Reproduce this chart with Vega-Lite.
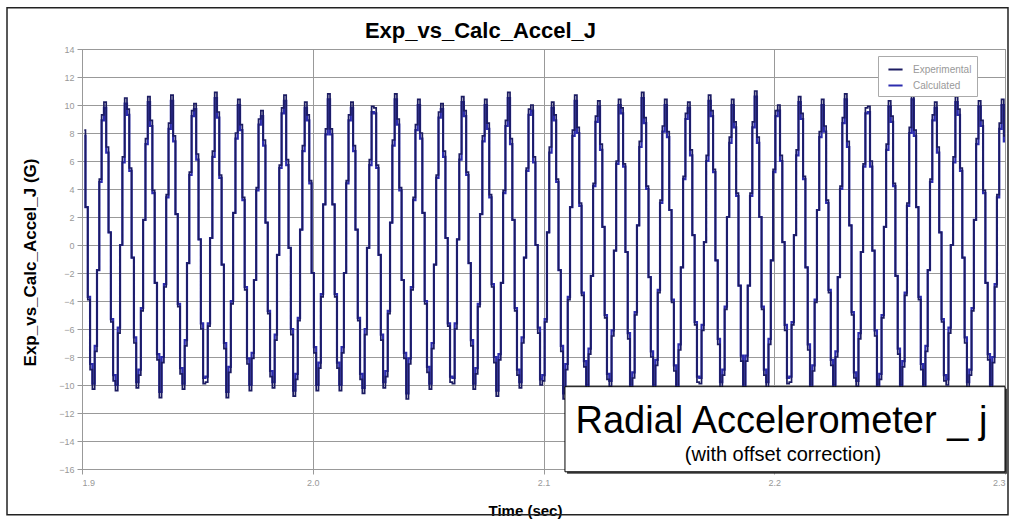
{
"$schema": "https://vega.github.io/schema/vega-lite/v6.json",
"width": 923, "height": 420,
"autosize": "none",
"padding": {"left": 82, "top": 49, "right": 4, "bottom": 50},
"background": "white",
"title": {"text": "Exp_vs_Calc_Accel_J", "font": "Liberation Sans", "fontSize": 22, "fontWeight": "bold", "color": "#000", "anchor": "middle", "frame": "group", "dx": -63, "offset": -36},
"datasets": {"wave": [
{"t":1.901,"e":8.2,"c":7.8},{"t":1.902,"e":2.7,"c":2.7},{"t":1.903,"e":-3.9,"c":-3.7},{"t":1.904,"e":-8.9,"c":-8.5},{"t":1.905,"e":-10.3,"c":-9.9},{"t":1.906,"e":-7.6,"c":-7.2},{"t":1.907,"e":-1.8,"c":-1.8},{"t":1.908,"e":4.7,"c":4.5},{"t":1.909,"e":9.3,"c":8.9},{"t":1.910,"e":10.2,"c":9.8},
{"t":1.911,"e":7.0,"c":6.6},{"t":1.912,"e":0.9,"c":0.9},{"t":1.913,"e":-5.5,"c":-5.3},{"t":1.914,"e":-9.7,"c":-9.3},{"t":1.915,"e":-10.4,"c":-10.0},{"t":1.916,"e":-6.3,"c":-5.9},{"t":1.917,"e":0.0,"c":0.0},{"t":1.918,"e":6.3,"c":5.9},{"t":1.919,"e":10.5,"c":10.1},{"t":1.920,"e":9.7,"c":9.3},
{"t":1.921,"e":5.5,"c":5.3},{"t":1.922,"e":-0.9,"c":-0.9},{"t":1.923,"e":-7.0,"c":-6.6},{"t":1.924,"e":-10.2,"c":-9.8},{"t":1.925,"e":-9.3,"c":-8.9},{"t":1.926,"e":-4.7,"c":-4.5},{"t":1.927,"e":1.8,"c":1.8},{"t":1.928,"e":7.6,"c":7.2},{"t":1.929,"e":10.6,"c":10.2},{"t":1.930,"e":8.9,"c":8.5},
{"t":1.931,"e":3.9,"c":3.7},{"t":1.932,"e":-2.7,"c":-2.7},{"t":1.933,"e":-8.2,"c":-7.8},{"t":1.934,"e":-10.9,"c":-10.5},{"t":1.935,"e":-8.4,"c":-8.0},{"t":1.936,"e":-3.0,"c":-2.8},{"t":1.937,"e":3.6,"c":3.4},{"t":1.938,"e":8.7,"c":8.3},{"t":1.939,"e":10.7,"c":10.3},{"t":1.940,"e":7.8,"c":7.4},
{"t":1.941,"e":2.2,"c":2.2},{"t":1.942,"e":-4.4,"c":-4.2},{"t":1.943,"e":-9.2,"c":-8.8},{"t":1.944,"e":-10.3,"c":-9.9},{"t":1.945,"e":-7.2,"c":-6.8},{"t":1.946,"e":-1.3,"c":-1.3},{"t":1.947,"e":5.2,"c":5.0},{"t":1.948,"e":9.6,"c":9.2},{"t":1.949,"e":10.1,"c":9.7},{"t":1.950,"e":6.5,"c":6.1},
{"t":1.951,"e":0.4,"c":0.4},{"t":1.952,"e":-6.0,"c":-5.6},{"t":1.953,"e":-9.9,"c":-9.5},{"t":1.954,"e":-9.8,"c":-9.4},{"t":1.955,"e":-5.8,"c":-5.6},{"t":1.956,"e":0.5,"c":0.5},{"t":1.957,"e":6.7,"c":6.3},{"t":1.958,"e":10.9,"c":10.5},{"t":1.959,"e":9.5,"c":9.1},{"t":1.960,"e":5.0,"c":4.8},
{"t":1.961,"e":-1.4,"c":-1.4},{"t":1.962,"e":-7.4,"c":-7.0},{"t":1.963,"e":-10.9,"c":-10.5},{"t":1.964,"e":-9.1,"c":-8.7},{"t":1.965,"e":-4.2,"c":-4.0},{"t":1.966,"e":2.3,"c":2.3},{"t":1.967,"e":8.0,"c":7.6},{"t":1.968,"e":10.4,"c":10.0},{"t":1.969,"e":8.6,"c":8.2},{"t":1.970,"e":3.4,"c":3.2},
{"t":1.971,"e":-3.2,"c":-3.0},{"t":1.972,"e":-8.5,"c":-8.1},{"t":1.973,"e":-10.4,"c":-10.0},{"t":1.974,"e":-8.1,"c":-7.7},{"t":1.975,"e":-2.5,"c":-2.5},{"t":1.976,"e":4.1,"c":3.9},{"t":1.977,"e":9.0,"c":8.6},{"t":1.978,"e":9.6,"c":9.2},{"t":1.979,"e":7.5,"c":7.1},{"t":1.980,"e":1.6,"c":1.6},
{"t":1.981,"e":-4.9,"c":-4.7},{"t":1.982,"e":-9.4,"c":-9.0},{"t":1.983,"e":-10.2,"c":-9.8},{"t":1.984,"e":-6.8,"c":-6.4},{"t":1.985,"e":-0.7,"c":-0.7},{"t":1.986,"e":5.7,"c":5.5},{"t":1.987,"e":9.8,"c":9.4},{"t":1.988,"e":10.7,"c":10.3},{"t":1.989,"e":6.1,"c":5.7},{"t":1.990,"e":-0.2,"c":-0.2},
{"t":1.991,"e":-6.4,"c":-6.0},{"t":1.992,"e":-10.8,"c":-10.4},{"t":1.993,"e":-9.6,"c":-9.2},{"t":1.994,"e":-5.4,"c":-5.2},{"t":1.995,"e":1.1,"c":1.1},{"t":1.996,"e":7.1,"c":6.7},{"t":1.997,"e":10.2,"c":9.8},{"t":1.998,"e":9.3,"c":8.9},{"t":1.999,"e":4.6,"c":4.4},{"t":2.000,"e":-2.0,"c":-2.0},
{"t":2.001,"e":-7.7,"c":-7.3},{"t":2.002,"e":-10.4,"c":-10.0},{"t":2.003,"e":-8.8,"c":-8.4},{"t":2.004,"e":-3.7,"c":-3.5},{"t":2.005,"e":2.9,"c":2.9},{"t":2.006,"e":8.3,"c":7.9},{"t":2.007,"e":10.8,"c":10.4},{"t":2.008,"e":8.3,"c":7.9},{"t":2.009,"e":2.9,"c":2.9},{"t":2.010,"e":-3.7,"c":-3.5},
{"t":2.011,"e":-8.8,"c":-8.4},{"t":2.012,"e":-10.4,"c":-10.0},{"t":2.013,"e":-7.7,"c":-7.3},{"t":2.014,"e":-2.0,"c":-2.0},{"t":2.015,"e":4.6,"c":4.4},{"t":2.016,"e":9.3,"c":8.9},{"t":2.017,"e":10.2,"c":9.8},{"t":2.018,"e":7.1,"c":6.7},{"t":2.019,"e":1.1,"c":1.1},{"t":2.020,"e":-5.4,"c":-5.2},
{"t":2.021,"e":-9.6,"c":-9.2},{"t":2.022,"e":-10.6,"c":-10.2},{"t":2.023,"e":-6.4,"c":-6.0},{"t":2.024,"e":-0.2,"c":-0.2},{"t":2.025,"e":6.1,"c":5.7},{"t":2.026,"e":9.9,"c":9.5},{"t":2.027,"e":9.8,"c":9.4},{"t":2.028,"e":5.7,"c":5.5},{"t":2.029,"e":-0.7,"c":-0.7},{"t":2.030,"e":-6.8,"c":-6.4},
{"t":2.031,"e":-10.2,"c":-9.8},{"t":2.032,"e":-9.4,"c":-9.0},{"t":2.033,"e":-4.9,"c":-4.7},{"t":2.034,"e":1.6,"c":1.6},{"t":2.035,"e":7.5,"c":7.1},{"t":2.036,"e":10.8,"c":10.4},{"t":2.037,"e":9.0,"c":8.6},{"t":2.038,"e":4.1,"c":3.9},{"t":2.039,"e":-2.5,"c":-2.5},{"t":2.040,"e":-8.1,"c":-7.7},
{"t":2.041,"e":-11.0,"c":-10.6},{"t":2.042,"e":-8.5,"c":-8.1},{"t":2.043,"e":-3.2,"c":-3.0},{"t":2.044,"e":3.4,"c":3.2},{"t":2.045,"e":8.6,"c":8.2},{"t":2.046,"e":10.4,"c":10.0},{"t":2.047,"e":8.0,"c":7.6},{"t":2.048,"e":2.3,"c":2.3},{"t":2.049,"e":-4.2,"c":-4.0},{"t":2.050,"e":-9.1,"c":-8.7},
{"t":2.051,"e":-10.3,"c":-9.9},{"t":2.052,"e":-7.4,"c":-7.0},{"t":2.053,"e":-1.4,"c":-1.4},{"t":2.054,"e":5.0,"c":4.8},{"t":2.055,"e":9.5,"c":9.1},{"t":2.056,"e":10.1,"c":9.7},{"t":2.057,"e":6.7,"c":6.3},{"t":2.058,"e":0.5,"c":0.5},{"t":2.059,"e":-5.8,"c":-5.6},{"t":2.060,"e":-9.8,"c":-9.4},
{"t":2.061,"e":-9.9,"c":-9.5},{"t":2.062,"e":-6.0,"c":-5.6},{"t":2.063,"e":0.4,"c":0.4},{"t":2.064,"e":6.5,"c":6.1},{"t":2.065,"e":10.6,"c":10.2},{"t":2.066,"e":9.6,"c":9.2},{"t":2.067,"e":5.2,"c":5.0},{"t":2.068,"e":-1.3,"c":-1.3},{"t":2.069,"e":-7.2,"c":-6.8},{"t":2.070,"e":-10.3,"c":-9.9},
{"t":2.071,"e":-9.2,"c":-8.8},{"t":2.072,"e":-4.4,"c":-4.2},{"t":2.073,"e":2.2,"c":2.2},{"t":2.074,"e":7.8,"c":7.4},{"t":2.075,"e":10.4,"c":10.0},{"t":2.076,"e":8.7,"c":8.3},{"t":2.077,"e":3.6,"c":3.4},{"t":2.078,"e":-3.0,"c":-2.8},{"t":2.079,"e":-8.4,"c":-8.0},{"t":2.080,"e":-10.8,"c":-10.4},
{"t":2.081,"e":-8.2,"c":-7.8},{"t":2.082,"e":-2.7,"c":-2.7},{"t":2.083,"e":3.9,"c":3.7},{"t":2.084,"e":8.9,"c":8.5},{"t":2.085,"e":10.9,"c":10.5},{"t":2.086,"e":7.6,"c":7.2},{"t":2.087,"e":1.8,"c":1.8},{"t":2.088,"e":-4.7,"c":-4.5},{"t":2.089,"e":-9.3,"c":-8.9},{"t":2.090,"e":-10.2,"c":-9.8},
{"t":2.091,"e":-7.0,"c":-6.6},{"t":2.092,"e":-0.9,"c":-0.9},{"t":2.093,"e":5.5,"c":5.3},{"t":2.094,"e":9.7,"c":9.3},{"t":2.095,"e":10.0,"c":9.6},{"t":2.096,"e":6.3,"c":5.9},{"t":2.097,"e":0.0,"c":0.0},{"t":2.098,"e":-6.3,"c":-5.9},{"t":2.099,"e":-10.0,"c":-9.6},{"t":2.100,"e":-9.7,"c":-9.3},
{"t":2.101,"e":-5.5,"c":-5.3},{"t":2.102,"e":0.9,"c":0.9},{"t":2.103,"e":7.0,"c":6.6},{"t":2.104,"e":10.2,"c":9.8},{"t":2.105,"e":9.3,"c":8.9},{"t":2.106,"e":4.7,"c":4.5},{"t":2.107,"e":-1.8,"c":-1.8},{"t":2.108,"e":-7.6,"c":-7.2},{"t":2.109,"e":-11.0,"c":-10.6},{"t":2.110,"e":-8.9,"c":-8.5},
{"t":2.111,"e":-3.9,"c":-3.7},{"t":2.112,"e":2.7,"c":2.7},{"t":2.113,"e":8.2,"c":7.8},{"t":2.114,"e":10.7,"c":10.3},{"t":2.115,"e":8.4,"c":8.0},{"t":2.116,"e":3.0,"c":2.8},{"t":2.117,"e":-3.6,"c":-3.4},{"t":2.118,"e":-8.7,"c":-8.3},{"t":2.119,"e":-10.4,"c":-10.0},{"t":2.120,"e":-7.8,"c":-7.4},
{"t":2.121,"e":-2.2,"c":-2.2},{"t":2.122,"e":4.4,"c":4.2},{"t":2.123,"e":9.2,"c":8.8},{"t":2.124,"e":10.3,"c":9.9},{"t":2.125,"e":7.2,"c":6.8},{"t":2.126,"e":1.3,"c":1.3},{"t":2.127,"e":-5.2,"c":-5.0},{"t":2.128,"e":-9.6,"c":-9.2},{"t":2.129,"e":-10.1,"c":-9.7},{"t":2.130,"e":-6.5,"c":-6.1},
{"t":2.131,"e":-0.4,"c":-0.4},{"t":2.132,"e":6.0,"c":5.8},{"t":2.133,"e":10.4,"c":10.0},{"t":2.134,"e":9.8,"c":9.4},{"t":2.135,"e":5.8,"c":5.6},{"t":2.136,"e":-0.5,"c":-0.5},{"t":2.137,"e":-6.7,"c":-6.3},{"t":2.138,"e":-10.7,"c":-10.3},{"t":2.139,"e":-9.5,"c":-9.1},{"t":2.140,"e":-5.0,"c":-4.8},
{"t":2.141,"e":1.4,"c":1.4},{"t":2.142,"e":7.4,"c":7.0},{"t":2.143,"e":10.9,"c":10.5},{"t":2.144,"e":9.1,"c":8.7},{"t":2.145,"e":4.2,"c":4.0},{"t":2.146,"e":-2.3,"c":-2.3},{"t":2.147,"e":-8.0,"c":-7.6},{"t":2.148,"e":-10.4,"c":-10.0},{"t":2.149,"e":-8.6,"c":-8.2},{"t":2.150,"e":-3.4,"c":-3.2},
{"t":2.151,"e":3.2,"c":3.0},{"t":2.152,"e":8.5,"c":8.1},{"t":2.153,"e":10.4,"c":10.0},{"t":2.154,"e":8.1,"c":7.7},{"t":2.155,"e":2.5,"c":2.5},{"t":2.156,"e":-4.1,"c":-3.9},{"t":2.157,"e":-9.0,"c":-8.6},{"t":2.158,"e":-10.9,"c":-10.5},{"t":2.159,"e":-7.5,"c":-7.1},{"t":2.160,"e":-1.6,"c":-1.6},
{"t":2.161,"e":4.9,"c":4.7},{"t":2.162,"e":9.4,"c":9.0},{"t":2.163,"e":10.2,"c":9.8},{"t":2.164,"e":6.8,"c":6.4},{"t":2.165,"e":0.7,"c":0.7},{"t":2.166,"e":-5.7,"c":-5.5},{"t":2.167,"e":-9.8,"c":-9.4},{"t":2.168,"e":-9.9,"c":-9.5},{"t":2.169,"e":-6.1,"c":-5.7},{"t":2.170,"e":0.2,"c":0.2},
{"t":2.171,"e":6.4,"c":6.0},{"t":2.172,"e":10.7,"c":10.3},{"t":2.173,"e":9.6,"c":9.2},{"t":2.174,"e":5.4,"c":5.2},{"t":2.175,"e":-1.1,"c":-1.1},{"t":2.176,"e":-7.1,"c":-6.7},{"t":2.177,"e":-10.2,"c":-9.8},{"t":2.178,"e":-9.3,"c":-8.9},{"t":2.179,"e":-4.6,"c":-4.4},{"t":2.180,"e":2.0,"c":2.0},
{"t":2.181,"e":7.7,"c":7.3},{"t":2.182,"e":10.4,"c":10.0},{"t":2.183,"e":8.8,"c":8.4},{"t":2.184,"e":3.7,"c":3.5},{"t":2.185,"e":-2.9,"c":-2.9},{"t":2.186,"e":-8.3,"c":-7.9},{"t":2.187,"e":-10.9,"c":-10.5},{"t":2.188,"e":-8.3,"c":-7.9},{"t":2.189,"e":-2.9,"c":-2.9},{"t":2.190,"e":3.7,"c":3.5},
{"t":2.191,"e":8.8,"c":8.4},{"t":2.192,"e":11.0,"c":10.6},{"t":2.193,"e":7.7,"c":7.3},{"t":2.194,"e":2.0,"c":2.0},{"t":2.195,"e":-4.6,"c":-4.4},{"t":2.196,"e":-9.3,"c":-8.9},{"t":2.197,"e":-10.2,"c":-9.8},{"t":2.198,"e":-7.1,"c":-6.7},{"t":2.199,"e":-1.1,"c":-1.1},{"t":2.200,"e":5.4,"c":5.2},
{"t":2.201,"e":9.6,"c":9.2},{"t":2.202,"e":10.0,"c":9.6},{"t":2.203,"e":6.4,"c":6.0},{"t":2.204,"e":0.2,"c":0.2},{"t":2.205,"e":-6.1,"c":-5.7},{"t":2.206,"e":-9.9,"c":-9.5},{"t":2.207,"e":-9.8,"c":-9.4},{"t":2.208,"e":-5.7,"c":-5.5},{"t":2.209,"e":0.7,"c":0.7},{"t":2.210,"e":6.8,"c":6.4},
{"t":2.211,"e":10.6,"c":10.2},{"t":2.212,"e":9.4,"c":9.0},{"t":2.213,"e":4.9,"c":4.7},{"t":2.214,"e":-1.6,"c":-1.6},{"t":2.215,"e":-7.5,"c":-7.1},{"t":2.216,"e":-10.8,"c":-10.4},{"t":2.217,"e":-9.0,"c":-8.6},{"t":2.218,"e":-4.1,"c":-3.9},{"t":2.219,"e":2.5,"c":2.5},{"t":2.220,"e":8.1,"c":7.7},
{"t":2.221,"e":10.4,"c":10.0},{"t":2.222,"e":8.5,"c":8.1},{"t":2.223,"e":3.2,"c":3.0},{"t":2.224,"e":-3.4,"c":-3.2},{"t":2.225,"e":-8.6,"c":-8.2},{"t":2.226,"e":-10.4,"c":-10.0},{"t":2.227,"e":-8.0,"c":-7.6},{"t":2.228,"e":-2.3,"c":-2.3},{"t":2.229,"e":4.2,"c":4.0},{"t":2.230,"e":9.1,"c":8.7},
{"t":2.231,"e":10.8,"c":10.4},{"t":2.232,"e":7.4,"c":7.0},{"t":2.233,"e":1.4,"c":1.4},{"t":2.234,"e":-5.0,"c":-4.8},{"t":2.235,"e":-9.5,"c":-9.1},{"t":2.236,"e":-10.1,"c":-9.7},{"t":2.237,"e":-6.7,"c":-6.3},{"t":2.238,"e":-0.5,"c":-0.5},{"t":2.239,"e":5.8,"c":5.6},{"t":2.240,"e":9.8,"c":9.4},
{"t":2.241,"e":9.9,"c":9.5},{"t":2.242,"e":6.0,"c":5.6},{"t":2.243,"e":-0.4,"c":-0.4},{"t":2.244,"e":-6.5,"c":-6.1},{"t":2.245,"e":-10.7,"c":-10.3},{"t":2.246,"e":-9.6,"c":-9.2},{"t":2.247,"e":-5.2,"c":-5.0},{"t":2.248,"e":1.3,"c":1.3},{"t":2.249,"e":7.2,"c":6.8},{"t":2.250,"e":10.3,"c":9.9},
{"t":2.251,"e":9.2,"c":8.8},{"t":2.252,"e":4.4,"c":4.2},{"t":2.253,"e":-2.2,"c":-2.2},{"t":2.254,"e":-7.8,"c":-7.4},{"t":2.255,"e":-10.4,"c":-10.0},{"t":2.256,"e":-8.7,"c":-8.3},{"t":2.257,"e":-3.6,"c":-3.4},{"t":2.258,"e":3.0,"c":2.8},{"t":2.259,"e":8.4,"c":8.0},{"t":2.260,"e":10.8,"c":10.4},
{"t":2.261,"e":8.2,"c":7.8},{"t":2.262,"e":2.7,"c":2.7},{"t":2.263,"e":-3.9,"c":-3.7},{"t":2.264,"e":-8.9,"c":-8.5},{"t":2.265,"e":-10.9,"c":-10.5},{"t":2.266,"e":-7.6,"c":-7.2},{"t":2.267,"e":-1.8,"c":-1.8},{"t":2.268,"e":4.7,"c":4.5},{"t":2.269,"e":9.3,"c":8.9},{"t":2.270,"e":10.2,"c":9.8},
{"t":2.271,"e":7.0,"c":6.6},{"t":2.272,"e":0.9,"c":0.9},{"t":2.273,"e":-5.5,"c":-5.3},{"t":2.274,"e":-9.7,"c":-9.3},{"t":2.275,"e":-10.0,"c":-9.6},{"t":2.276,"e":-6.3,"c":-5.9},{"t":2.277,"e":0.0,"c":0.0},{"t":2.278,"e":6.3,"c":5.9},{"t":2.279,"e":10.6,"c":10.2},{"t":2.280,"e":9.7,"c":9.3},
{"t":2.281,"e":5.5,"c":5.3},{"t":2.282,"e":-0.9,"c":-0.9},{"t":2.283,"e":-7.0,"c":-6.6},{"t":2.284,"e":-10.2,"c":-9.8},{"t":2.285,"e":-9.3,"c":-8.9},{"t":2.286,"e":-4.7,"c":-4.5},{"t":2.287,"e":1.8,"c":1.8},{"t":2.288,"e":7.6,"c":7.2},{"t":2.289,"e":10.3,"c":9.9},{"t":2.290,"e":8.9,"c":8.5},
{"t":2.291,"e":3.9,"c":3.7},{"t":2.292,"e":-2.7,"c":-2.7},{"t":2.293,"e":-8.2,"c":-7.8},{"t":2.294,"e":-10.4,"c":-10.0},{"t":2.295,"e":-8.4,"c":-8.0},{"t":2.296,"e":-3.0,"c":-2.8},{"t":2.297,"e":3.6,"c":3.4},{"t":2.298,"e":8.7,"c":8.3},{"t":2.299,"e":10.4,"c":10.0},{"t":2.300,"e":7.8,"c":7.4}
]},
"layer": [
{
"data": {"values": [{}]},
"mark": {"type": "rect", "fillOpacity": 0, "stroke": "#222", "strokeWidth": 1.5},
"encoding": {
"x": {"datum": 1.8675, "type": "quantitative", "scale": {"domain": [1.9, 2.3], "nice": false, "zero": false},
"axis": {"values": [1.9, 2.0, 2.1, 2.2, 2.3], "tickCount": 10, "format": ".1f", "grid": true, "gridColor": "#999", "domain": false, "tickColor": "#999", "tickSize": 5, "labelColor": "#999", "labelFontSize": 9, "labelFont": "Liberation Sans", "labelPadding": 4, "labelOverlap": false, "title": "Time (sec)", "titleFont": "Liberation Sans", "titleFontSize": 15, "titleFontWeight": "bold", "titleColor": "#000", "titleX": 443, "titleY": 46, "titleBaseline": "alphabetic"}},
"x2": {"datum": 2.3013},
"y": {"datum": 16.95, "type": "quantitative", "scale": {"domain": [-16, 14], "nice": false, "zero": false},
"axis": {"values": [-16, -14, -12, -10, -8, -6, -4, -2, 0, 2, 4, 6, 8, 10, 12, 14], "tickCount": 40, "grid": true, "gridColor": "#999", "domain": false, "tickColor": "#999", "tickSize": 5, "labelColor": "#999", "labelFontSize": 9, "labelFont": "Liberation Sans", "labelPadding": 3, "labelOverlap": false, "labelFlush": false, "labelBound": false, "title": "Exp_vs_Calc_Accel_J (G)", "titleFont": "Liberation Sans", "titleFontSize": 17, "titleFontWeight": "bold", "titleColor": "#000", "titleX": -52, "titleY": 213, "titleBaseline": "middle"}},
"y2": {"datum": -19.26}
}
},
{
"data": {"name": "wave"},
"mark": {"type": "line", "strokeWidth": 2.2, "interpolate": "step"},
"encoding": {
"x": {"field": "t", "type": "quantitative"},
"y": {"field": "c", "type": "quantitative"},
"color": {"datum": "Calculated", "type": "nominal", "scale": {"domain": ["Experimental", "Calculated"], "range": ["#1c1c62", "#2c2cae"]},
"legend": {"title": null, "orient": "none", "legendX": 796, "legendY": 7, "symbolType": "stroke", "symbolSize": 200, "symbolStrokeWidth": 2, "labelFontSize": 10, "labelColor": "#999", "labelFont": "Liberation Sans", "labelOffset": 9, "padding": 5, "strokeColor": "#aaa", "fillColor": "white", "rowPadding": 2, "symbolOffset": 4}}
}
},
{
"data": {"name": "wave"},
"mark": {"type": "line", "strokeWidth": 1.7, "interpolate": "step"},
"encoding": {
"x": {"field": "t", "type": "quantitative"},
"y": {"field": "e", "type": "quantitative"},
"color": {"datum": "Experimental", "type": "nominal"}
}
},
{
"data": {"values": [{}]},
"mark": {"type": "rect", "fill": "#444"},
"encoding": {
"x": {"datum": 2.1102, "type": "quantitative"},
"x2": {"datum": 2.3009},
"y": {"datum": -10.26, "type": "quantitative"},
"y2": {"datum": -16.34}
}
},
{
"data": {"values": [{}]},
"mark": {"type": "rect", "fill": "white", "stroke": "#000", "strokeWidth": 1},
"encoding": {
"x": {"datum": 2.1093, "type": "quantitative"},
"x2": {"datum": 2.3},
"y": {"datum": -10.12, "type": "quantitative"},
"y2": {"datum": -16.2}
}
},
{
"data": {"values": [{"label": "Radial Accelerometer _ j"}]},
"mark": {"type": "text", "font": "Liberation Sans", "fontSize": 38, "align": "center", "baseline": "alphabetic", "color": "#000"},
"encoding": {
"x": {"datum": 2.2031, "type": "quantitative"},
"y": {"datum": -13.45, "type": "quantitative"},
"text": {"field": "label"}
}
},
{
"data": {"values": [{"label": "(with offset correction)"}]},
"mark": {"type": "text", "font": "Liberation Sans", "fontSize": 20, "align": "center", "baseline": "alphabetic", "color": "#000"},
"encoding": {
"x": {"datum": 2.2038, "type": "quantitative"},
"y": {"datum": -15.45, "type": "quantitative"},
"text": {"field": "label"}
}
}
],
"config": {"view": {"stroke": "#888", "strokeWidth": 1}, "font": "Liberation Sans"}
}
